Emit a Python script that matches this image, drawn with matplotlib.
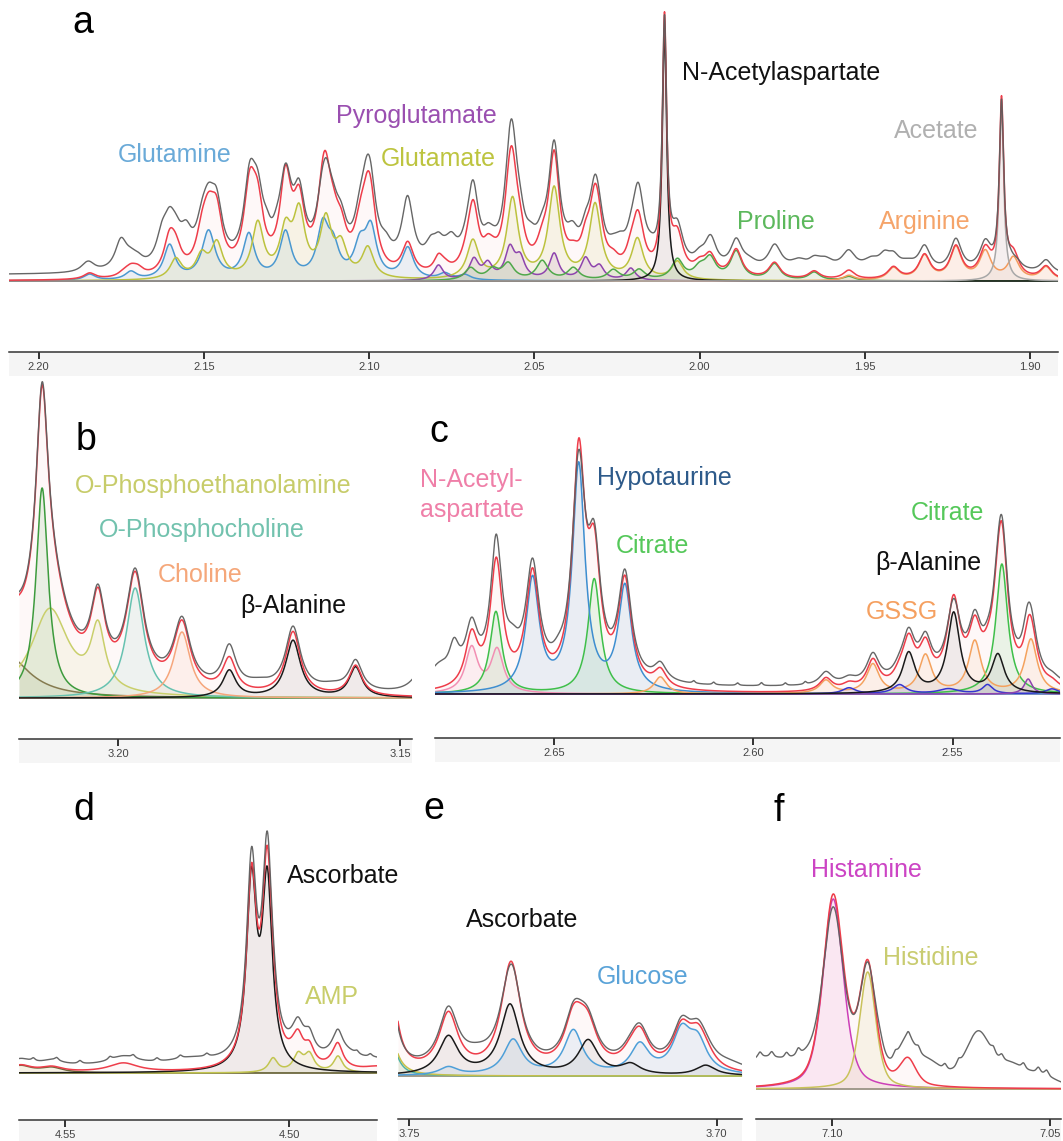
import numpy as np
import matplotlib.pyplot as plt
from matplotlib.patches import Rectangle

plt.rcParams['font.family'] = ['Liberation Sans', 'DejaVu Sans']

# ---- data: peaks as (ppm, height, half width) ----
# panel a  (2.21 - 1.89 ppm)
a_glutamine = [(2.1846, 6), (2.1721, 8), (2.1604, 34), (2.1486, 48, 0.0024), (2.1364, 44), (2.1253, 46),
               (2.1140, 50), (2.1109, 28), (2.1028, 30), (2.0995, 48), (2.0883, 31), (2.0771, 6), (2.0710, 5)]
a_glutamate = [(2.1585, 20), (2.1507, 22), (2.1461, 34), (2.1337, 54), (2.1253, 44), (2.1212, 62), (2.1131, 56),
               (2.1085, 30), (2.1004, 30), (2.0686, 38), (2.0566, 80), (2.0440, 90),
               (2.0316, 74), (2.0188, 40), (2.0067, 18)]
a_pyroglutamate = [(2.0790, 15, 0.0017), (2.0683, 20, 0.0017), (2.0641, 15, 0.0017), (2.0574, 30, 0.0017),
                   (2.0543, 20, 0.0017), (2.0440, 26, 0.0017), (2.0345, 21, 0.0017), (2.0303, 13, 0.0017),
                   (2.0208, 12, 0.0017)]
a_proline = [(2.0693, 12), (2.0626, 10), (2.0579, 16), (2.0476, 19), (2.0382, 12), (2.0261, 10), (2.0183, 10),
             (2.0067, 20), (2.0000, 10), (1.9968, 20), (1.9889, 28), (1.9773, 16), (1.9653, 8), (1.9548, 4)]
a_arginine = [(1.9548, 5), (1.9413, 12), (1.9319, 24), (1.9224, 32), (1.9135, 28), (1.9050, 22), (1.8951, 13)]
a_naa = [(2.0106, 253, 0.0008)]
a_acetate = [(1.9086, 174, 0.0008)]
a_fit_extra = [(2.1358, 35), (2.1462, 14), (2.1502, 4), (2.1010, 18), (2.0183, 8), (2.1742, 4), (2.1700, 7)]
a_exp_extra = [(2.1857, 5), (2.1752, 26), (2.1627, 26), (2.1554, 26), (2.1310, 14, 0.0015), (2.1280, 10, 0.0015),
               (2.1253, -8, 0.0012), (2.1137, -16, 0.0014), (2.1010, 8), (2.0950, 14), (2.0884, 36),
               (2.0813, 18), (2.0751, 20), (2.0688, 10), (2.0570, 18), (2.0511, 14), (2.0387, 12),
               (2.0240, 14), (2.0183, 18), (2.0146, 8), (2.0106, -13, 0.0008), (1.9964, 10),
               (1.9850, 7, 0.003), (1.9770, 9, 0.003), (1.9700, 9, 0.003), (1.9620, 10, 0.003),
               (1.9550, 10, 0.003), (1.9480, 10, 0.003), (1.9440, 12, 0.002), (1.9370, 7, 0.003),
               (1.9086, -8, 0.0008), (1.9050, -12, 0.0015)]
a_ticks = [2.20, 2.15, 2.10, 2.05, 2.00, 1.95, 1.90]

# panel b
b_ope = [(3.2121, 88, 0.004), (3.2036, 62, 0.0015)]
b_green = [(3.2135, 210, 0.0013)]
b_olive = [(3.2200, 44, 0.005)]
b_opc = [(3.1970, 110, 0.0019)]
b_choline = [(3.1887, 66, 0.0018)]
b_bala = [(3.1803, 27, 0.0014), (3.1690, 57, 0.0016), (3.1579, 30, 0.0014)]
b_fit_extra = [(3.2205, 30, 0.003), (3.2036, 15, 0.0015), (3.1803, 6), (3.1690, 6)]
b_exp_extra = [(3.1803, 8, 0.0015), (3.1750, 6, 0.003), (3.1460, 25, 0.002), (3.1620, 5, 0.003)]
b_ticks = [3.20, 3.15]

# panel c
c_naa = [(2.6708, 45), (2.6644, 43)]
c_citrate = [(2.6647, 82, 0.0018), (2.6400, 115, 0.0019), (2.5376, 130, 0.0018)]
c_hypotaurine = [(2.6555, 112, 0.002), (2.6439, 226, 0.0019), (2.6323, 104, 0.002)]
c_gssg = [(2.6234, 17), (2.5818, 13), (2.5700, 29), (2.5568, 38), (2.5444, 52), (2.5303, 54)]
c_bala = [(2.5610, 40), (2.5497, 80), (2.5386, 38)]
c_navy = [(2.5760, 6, 0.002), (2.5633, 9, 0.002), (2.5510, 5, 0.003), (2.5412, 9, 0.0015), (2.5250, 5)]
c_purple = [(2.5310, 15, 0.0012)]
c_fit_extra = [(2.6708, 6), (2.5610, 4)]
c_exp_extra = [(2.6790, 15, 0.003), (2.6752, 30, 0.0015), (2.6605, 20, 0.002), (2.6647, 12, 0.001),
               (2.6439, -19, 0.0012), (2.6490, 8), (2.5497, -10, 0.0012), (2.5316, 10, 0.0012),
               (2.6150, 2.5, 0.0004), (2.6100, 2.5, 0.0004), (2.6040, 2.5, 0.0004), (2.5980, 3, 0.0004),
               (2.5920, 2.5, 0.0004), (2.5870, 2.5, 0.0004)]
c_ticks = [2.65, 2.60, 2.55]

# panel d
d_ascorbate = [(4.5084, 183, 0.00135), (4.5049, 183, 0.00135)]
d_amp = [(4.5036, 14, 0.0012), (4.4980, 17, 0.0013), (4.4955, 17, 0.0013), (4.4891, 16, 0.0012)]
d_olive = [(4.5600, 7, 0.003), (4.5530, 5, 0.003)]
d_fit_extra = [(4.5370, 9, 0.004), (4.4985, 12, 0.002), (4.4895, 10, 0.002), (4.5049, 12, 0.0012),
               (4.4800, 5, 0.004)]
d_exp_extra = [(4.5084, 8, 0.001), (4.5049, 6, 0.001), (4.5220, 6, 0.006), (4.4965, 6, 0.003),
               (4.4870, 8, 0.004), (4.5571, 3, 0.0005), (4.5519, 3, 0.0005), (4.5467, 3, 0.0005),
               (4.5400, 3, 0.0005), (4.5348, 3, 0.0005), (4.5295, 3, 0.0005), (4.5243, 3, 0.0005),
               (4.5184, 3, 0.0005), (4.4849, 3, 0.0005), (4.4819, 3, 0.0005)]
d_ticks = [4.55, 4.50]

# panel e
e_ascorbate = [(3.7436, 38), (3.7336, 70), (3.7209, 34), (3.7140, 10), (3.7018, 10)]
e_glucose = [(3.7436, 8, 0.0018), (3.7331, 35, 0.0018), (3.7233, 44, 0.0018), (3.7125, 29, 0.0018),
             (3.7057, 40, 0.0018), (3.7031, 30, 0.0018)]
e_teal = [(3.7530, 38, 0.0012)]
e_yellow = [(3.7535, 60, 0.0013)]
e_fit_extra = [(3.7535, 20, 0.0015), (3.7436, 12), (3.7336, 6), (3.7220, 12), (3.7125, 6)]
e_exp_extra = [(3.7390, 9, 0.003), (3.7336, -8, 0.0012), (3.7530, -14, 0.0015), (3.6980, 5, 0.003)]
e_ticks = [3.75, 3.70]

# panel f
f_histamine = [(7.0997, 190, 0.0028)]
f_histidine = [(7.0918, 117, 0.0022)]
f_fit_extra = [(7.0826, 26, 0.0022), (7.0956, 5, 0.002)]
f_exp_extra = [(7.1160, 28, 0.008), (7.1060, 12, 0.004), (7.0997, -20, 0.0028), (7.0918, -6, 0.002),
               (7.0890, 8, 0.0012), (7.0840, 12, 0.003), (7.0780, 20, 0.004), (7.0665, 52, 0.0035),
               (7.0590, 18, 0.004), (7.0520, 10, 0.004),
               (7.1165, 5, 0.0005), (7.1138, 5, 0.0005), (7.1104, 5, 0.0005), (7.1077, 6, 0.0005),
               (7.0855, 5, 0.0005), (7.0825, 5, 0.0005), (7.0802, 5, 0.0005), (7.0741, 5, 0.0005),
               (7.0710, 5, 0.0005), (7.0630, 5, 0.0005), (7.0611, 5, 0.0005), (7.0561, 5, 0.0005),
               (7.0527, 5, 0.0005), (7.0508, 5, 0.0005)]
f_ticks = [7.10, 7.05]

RED = '#ee3d4a'
EXP = '#5e5e5e'
W, H = 1063, 1141

fig = plt.figure(figsize=(W / 100, H / 100), dpi=100)


def shape(x, peaks, w0, eta):
    y = np.zeros_like(x)
    for p in peaks:
        c, h = p[0], p[1]
        w = p[2] if len(p) > 2 else w0
        d2 = ((x - c) / w) ** 2
        y += h * (eta / (1 + d2) + (1 - eta) * np.exp(-np.log(2) * d2))
    return y


def panel(box, xlim, ticks, comps, fit_extra, exp_off, exp_extra, w0, eta=1.0):
    x0, x1, ytop, yaxis, ybase = box
    ax = fig.add_axes([x0 / W, 1 - yaxis / H, (x1 - x0) / W, (yaxis - ytop) / H])
    ax.patch.set_alpha(0)
    ax.set_xlim(*xlim)
    ax.set_ylim(-(yaxis - ybase), ybase - ytop)
    x = np.linspace(xlim[0], xlim[1], 4000)
    total = np.zeros_like(x)
    curves = []
    for peaks, col, fcol in comps:
        y = shape(x, peaks, w0, eta)
        total += y
        curves.append((y, col, fcol))
    fit = total + shape(x, fit_extra, w0, eta)
    exp = fit + exp_off + shape(x, exp_extra, w0, eta)
    ax.fill_between(x, 0, fit, color=RED, alpha=0.035, lw=0)
    for y, col, fcol in curves:
        ax.fill_between(x, 0, y, color=fcol, alpha=0.10 if fcol == col else 0.12, lw=0)
    ax.axhline(0, color='#9a9484', lw=1.3)
    for y, col, fcol in curves:
        ax.plot(x, y, color=col, lw=1.1)
    ax.plot(x, fit, color=RED, lw=1.1)
    ax.plot(x, exp, color=EXP, lw=1.0, alpha=0.95)
    for s in ['top', 'left', 'right']:
        ax.spines[s].set_visible(False)
    ax.spines['bottom'].set_color('#333333')
    ax.spines['bottom'].set_linewidth(1.1)
    ax.set_yticks([])
    ax.set_xticks(ticks)
    ax.set_xticklabels(['%.2f' % t for t in ticks])
    ax.tick_params(axis='x', direction='out', length=5, width=1.3, colors='#222222',
                   labelsize=8, labelcolor='#444444', pad=2)
    fig.add_artist(Rectangle((x0 / W, 1 - (yaxis + 24) / H), (x1 - x0) / W, 24 / H,
                             transform=fig.transFigure, color='#f5f5f5', zorder=-5, lw=0))
    return ax


def label(x, y, s, color, size=18, ha='center'):
    fig.text(x / W, 1 - y / H, s, color=color, fontsize=size, ha=ha, va='baseline')


GREYFILL = '#8c8c8c'

panel((9, 1058, 0, 352, 281), (2.209, 1.8915), a_ticks,
      [(a_glutamine, '#4a98d0', '#4a98d0'), (a_glutamate, '#bcc23e', '#bcc23e'),
       (a_pyroglutamate, '#8e44ad', '#8e44ad'), (a_proline, '#4fa84a', '#4fa84a'),
       (a_arginine, '#f39a5b', '#f39a5b'), (a_naa, '#1a1a1a', GREYFILL),
       (a_acetate, '#a8a8a8', '#a8a8a8')],
      a_fit_extra, 6, a_exp_extra, 0.0021)

panel((19, 412, 380, 739, 698), (3.2176, 3.1479), b_ticks,
      [(b_olive, '#857b4f', '#857b4f'), (b_ope, '#c9cf6b', '#c9cf6b'), (b_green, '#3d9b3d', '#3d9b3d'),
       (b_opc, '#66c2b0', '#66c2b0'), (b_choline, '#f6a67c', '#f6a67c'), (b_bala, '#1a1a1a', GREYFILL)],
      b_fit_extra, 3, b_exp_extra, 0.0016)

panel((435, 1060, 380, 738, 694), (2.680, 2.523), c_ticks,
      [(c_naa, '#f28fb3', '#f28fb3'), (c_citrate, '#3fbf4a', '#3fbf4a'),
       (c_hypotaurine, '#3e8ed0', '#3e8ed0'), (c_gssg, '#f4a25e', '#f4a25e'),
       (c_navy, '#3535d0', '#3535d0'), (c_purple, '#8e44ad', '#8e44ad'), (c_bala, '#1a1a1a', GREYFILL)],
      c_fit_extra, 6, c_exp_extra, 0.0019)

panel((19, 377, 790, 1120, 1073), (4.5603, 4.4804), d_ticks,
      [(d_olive, '#6e6a3c', '#c2c550'), (d_amp, '#c2c550', '#c2c550'), (d_ascorbate, '#1a1a1a', GREYFILL)],
      d_fit_extra, 6, d_exp_extra, 0.0013)

panel((398, 742, 790, 1119, 1076), (3.7518, 3.6959), e_ticks,
      [(e_teal, '#4fb3a3', '#4fb3a3'), (e_yellow, '#c8c04a', '#c8c04a'), (e_glucose, '#4e9fd8', '#4e9fd8'),
       (e_ascorbate, '#1a1a1a', GREYFILL)],
      e_fit_extra, 3, e_exp_extra, 0.0019)

panel((756, 1061, 790, 1119, 1089), (7.1174, 7.0475), f_ticks,
      [(f_histamine, '#cc3fb8', '#e070c8'), (f_histidine, '#c9c25a', '#c9c25a')],
      f_fit_extra, 0, f_exp_extra, 0.0025, eta=0.5)

# panel letters
for lx, ly, s in [(72, 33, 'a'), (76, 450, 'b'), (429, 442, 'c'), (73, 820, 'd'), (423, 819, 'e'), (774, 821, 'f')]:
    label(lx, ly, s, 'black', size=27, ha='left')

# metabolite names
label(175, 162, 'Glutamine', '#6aaad8')
label(416, 123, 'Pyroglutamate', '#9a4fb0')
label(438, 166, 'Glutamate', '#bdc43f')
label(781, 80, 'N-Acetylaspartate', '#111111')
label(936, 138, 'Acetate', '#b0b0b0')
label(776, 229, 'Proline', '#5cb85c')
label(925, 229, 'Arginine', '#f5a46a')

label(213, 493, 'O-Phosphoethanolamine', '#c7cc6a')
label(202, 537, 'O-Phosphocholine', '#72c2ae')
label(200, 582, 'Choline', '#f5a77a')
label(293, 613, 'β-Alanine', '#111111')

label(471, 487, 'N-Acetyl-', '#ef7fa8')
label(472, 517, 'aspartate', '#ef7fa8')
label(664, 485, 'Hypotaurine', '#2d5a8a')
label(652, 553, 'Citrate', '#55c85a')
label(947, 520, 'Citrate', '#55c85a')
label(928, 570, 'β-Alanine', '#111111')
label(902, 619, 'GSSG', '#f5a060')

label(343, 883, 'Ascorbate', '#111111')
label(332, 1004, 'AMP', '#c8cd6a')
label(522, 927, 'Ascorbate', '#111111')
label(643, 984, 'Glucose', '#5aa3d8')
label(866, 877, 'Histamine', '#cc44c4')
label(931, 965, 'Histidine', '#c9cc70')

fig.savefig('out.png', dpi=100)
